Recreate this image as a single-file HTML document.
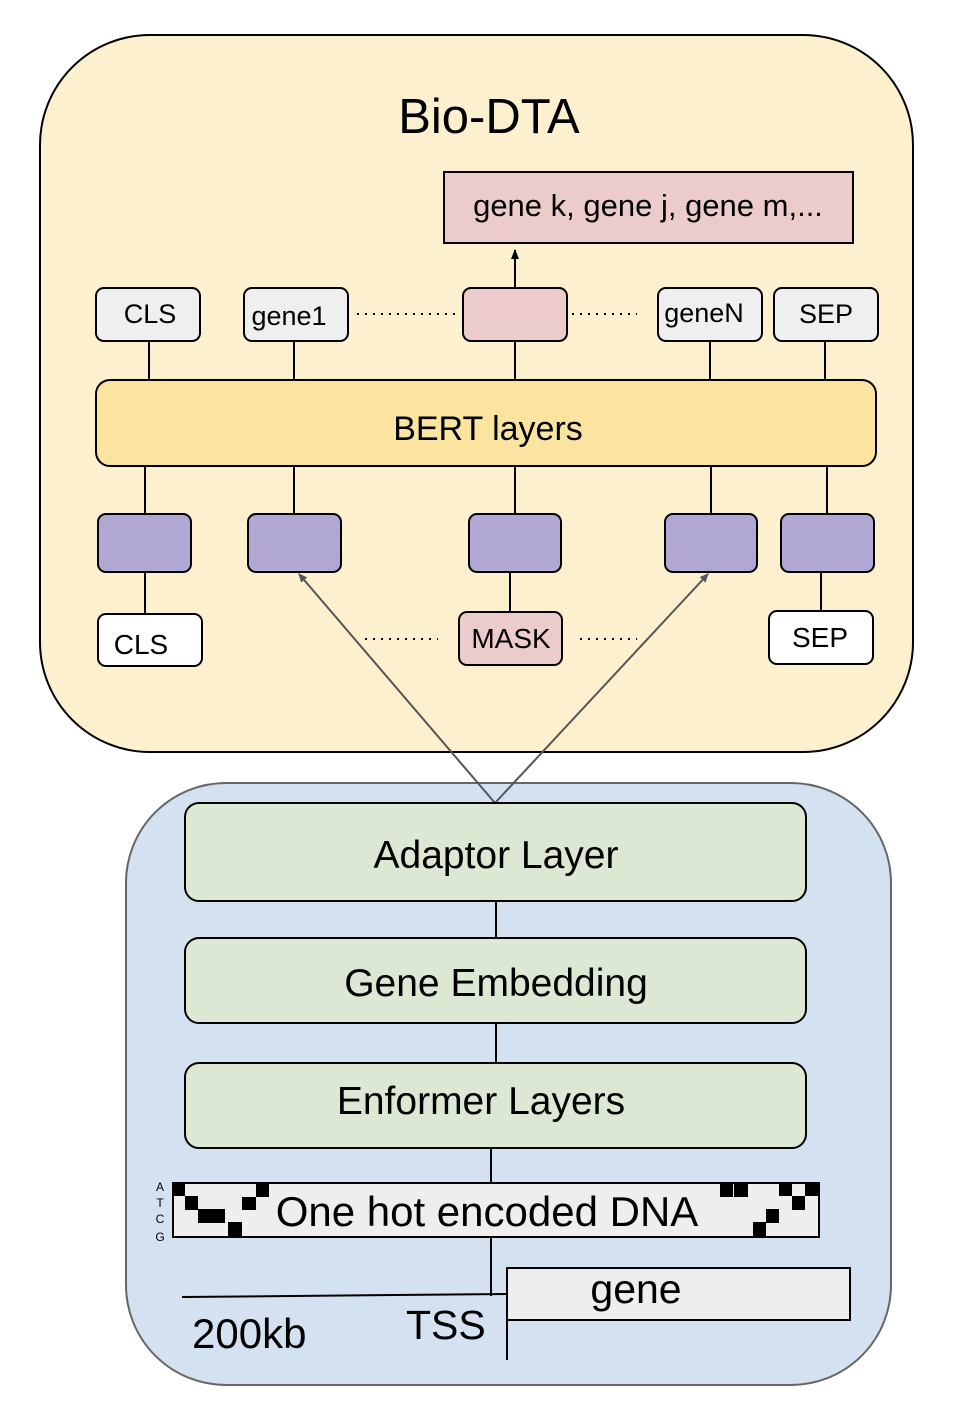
<!DOCTYPE html>
<html><head><meta charset="utf-8"><style>
html,body{margin:0;padding:0;background:#fff;}
svg{display:block;font-family:"Liberation Sans",Arial,sans-serif;}
</style></head><body>
<svg width="964" height="1420" viewBox="0 0 964 1420" xmlns="http://www.w3.org/2000/svg">
<defs>
<marker id="ag" markerWidth="10" markerHeight="10" refX="8" refY="5" orient="auto" markerUnits="userSpaceOnUse"><path d="M0,1 L9,5 L0,9 z" fill="#555"/></marker>
<marker id="ab" markerWidth="10" markerHeight="12" refX="9" refY="5" orient="auto" markerUnits="userSpaceOnUse"><path d="M0,1 L10,5 L0,9 z" fill="#000"/></marker>
</defs>
<rect x="0" y="0" width="964" height="1420" fill="#fff"/>
<rect x="40" y="35" width="873" height="717" rx="110" fill="#fcf0cf" stroke="#000" stroke-width="2"/>
<text x="489" y="133" font-size="49" text-anchor="middle">Bio-DTA</text>
<rect x="444" y="172" width="409" height="71" fill="#eccccb" stroke="#000" stroke-width="2"/>
<text x="648" y="216" font-size="31" text-anchor="middle">gene k, gene j, gene m,...</text>
<line x1="515" y1="288" x2="515" y2="250" stroke="#000" stroke-width="2" marker-end="url(#ab)"/>

<g stroke="#000" stroke-width="2">
<line x1="149" y1="341" x2="149" y2="380"/><line x1="294" y1="341" x2="294" y2="380"/><line x1="515" y1="341" x2="515" y2="380"/><line x1="710" y1="341" x2="710" y2="380"/><line x1="825" y1="341" x2="825" y2="380"/>
<line x1="145" y1="466" x2="145" y2="514"/><line x1="294" y1="466" x2="294" y2="514"/><line x1="515" y1="466" x2="515" y2="514"/><line x1="711" y1="466" x2="711" y2="514"/><line x1="827" y1="466" x2="827" y2="514"/>
<line x1="145" y1="572" x2="145" y2="614"/><line x1="510" y1="572" x2="510" y2="612"/><line x1="821" y1="572" x2="821" y2="611"/>
</g>
<g stroke="#000" stroke-width="2" fill="#efefef">
<rect x="96" y="288" width="104" height="53" rx="8"/>
<rect x="244" y="288" width="104" height="53" rx="8"/>
<rect x="463" y="288" width="104" height="53" rx="8" fill="#eccccb"/>
<rect x="658" y="288" width="104" height="53" rx="8"/>
<rect x="774" y="288" width="104" height="53" rx="8"/>
</g>
<g font-size="27">
<text x="150" y="323" text-anchor="middle">CLS</text>
<text x="289" y="325" text-anchor="middle">gene1</text>
<text x="704" y="322" text-anchor="middle">geneN</text>
<text x="826" y="323" text-anchor="middle">SEP</text>
</g>
<g stroke="#000" stroke-width="2" stroke-dasharray="2,6">
<line x1="357" y1="314" x2="457" y2="314"/><line x1="572" y1="314" x2="637" y2="314"/>
<line x1="365" y1="639" x2="438" y2="639"/><line x1="580" y1="639" x2="637" y2="639"/>
</g>
<rect x="96" y="380" width="780" height="86" rx="14" fill="#fbe49f" stroke="#000" stroke-width="2"/>
<text x="488" y="440" font-size="34" text-anchor="middle">BERT layers</text>
<g stroke="#000" stroke-width="2" fill="#b1a7d3">
<rect x="98" y="514" width="93" height="58" rx="8"/>
<rect x="248" y="514" width="93" height="58" rx="8"/>
<rect x="469" y="514" width="92" height="58" rx="8"/>
<rect x="665" y="514" width="92" height="58" rx="8"/>
<rect x="781" y="514" width="93" height="58" rx="8"/>
</g>
<g stroke="#000" stroke-width="2">
<rect x="98" y="614" width="104" height="52" rx="8" fill="#fff"/>
<rect x="459" y="612" width="103" height="53" rx="8" fill="#eccccb"/>
<rect x="769" y="611" width="104" height="53" rx="8" fill="#fff"/>
</g>
<g font-size="28">
<text x="141" y="654" text-anchor="middle">CLS</text>
<text x="511" y="648" text-anchor="middle">MASK</text>
<text x="820" y="647" text-anchor="middle">SEP</text>
</g>

<rect x="126" y="783" width="765" height="602" rx="100" fill="#d4e1f1" stroke="#666" stroke-width="2"/>
<g stroke="#555" stroke-width="2" fill="none">
<line x1="495" y1="803" x2="299" y2="574" marker-end="url(#ag)"/>
<line x1="495" y1="803" x2="708" y2="574" marker-end="url(#ag)"/>
</g>
<g stroke="#000" stroke-width="2">
<line x1="496" y1="901" x2="496" y2="938"/>
<line x1="496" y1="1023" x2="496" y2="1063"/>
<line x1="491" y1="1148" x2="491" y2="1183"/>
<line x1="491" y1="1237" x2="491" y2="1296"/>
</g>
<g stroke="#000" stroke-width="2" fill="#dde8d4">
<rect x="185" y="803" width="621" height="98" rx="14"/>
<rect x="185" y="938" width="621" height="85" rx="14"/>
<rect x="185" y="1063" width="621" height="85" rx="14"/>
</g>
<text x="496" y="868" font-size="39" text-anchor="middle">Adaptor Layer</text>
<text x="496" y="996" font-size="39" text-anchor="middle">Gene Embedding</text>
<text x="481" y="1114" font-size="39" text-anchor="middle">Enformer Layers</text>

<rect x="173" y="1183" width="646" height="54" fill="#eeeeee" stroke="#000" stroke-width="2"/>
<g fill="#000">
<rect x="172" y="1183" width="13" height="13"/>
<rect x="185" y="1196" width="13" height="14"/>
<rect x="198" y="1209" width="13" height="14"/>
<rect x="211" y="1209" width="14" height="14"/>
<rect x="228" y="1222" width="14" height="16"/>
<rect x="242" y="1197" width="14" height="13"/>
<rect x="256" y="1183" width="13" height="14"/>
<rect x="720" y="1183" width="13" height="14"/>
<rect x="734" y="1183" width="14" height="14"/>
<rect x="779" y="1183" width="13" height="13"/>
<rect x="792" y="1196" width="13" height="14"/>
<rect x="766" y="1209" width="13" height="14"/>
<rect x="753" y="1222" width="13" height="16"/>
<rect x="805" y="1183" width="14" height="13"/>
</g>
<g font-size="12" text-anchor="middle">
<text x="160" y="1191">A</text><text x="160" y="1207">T</text><text x="160" y="1223">C</text><text x="160" y="1241">G</text>
</g>
<text x="487" y="1226" font-size="42" text-anchor="middle">One hot encoded DNA</text>

<line x1="182" y1="1297" x2="508" y2="1294" stroke="#000" stroke-width="2"/>
<rect x="507" y="1268" width="343" height="52" fill="#eeeeee" stroke="#000" stroke-width="2"/>
<line x1="507" y1="1268" x2="507" y2="1360" stroke="#000" stroke-width="2"/>
<text x="636" y="1303" font-size="41" text-anchor="middle">gene</text>
<text x="192" y="1348" font-size="42">200kb</text>
<text x="406" y="1339" font-size="41">TSS</text>
</svg>
</body></html>
